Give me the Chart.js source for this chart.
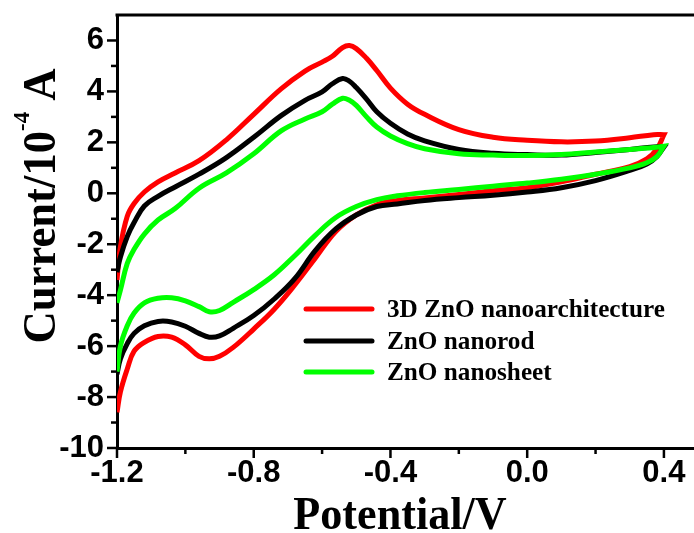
<!DOCTYPE html>
<html>
<head>
<meta charset="utf-8">
<script src="https://cdn.jsdelivr.net/npm/chart.js@4.4.1/dist/chart.umd.min.js"></script>
<style>
  html, body { margin: 0; padding: 0; background: #fff; }
  #wrap { width: 694px; height: 533px; position: relative; }
</style>
</head>
<body>
<div id="wrap"><canvas id="c" width="694" height="533"></canvas></div>
<script>
// ---- Data ----
const seriesNames = ["3D ZnO nanoarchitecture", "ZnO nanorod", "ZnO nanosheet"];
const seriesColors = ["#ff0000", "#000000", "#00ff00"];

// Tick labels
const xTicks = [-1.2, -0.8, -0.4, 0.0, 0.4];
const yTicks = [-10, -8, -6, -4, -2, 0, 2, 4, 6];
const xMinorTicks = [-1.0, -0.6, -0.2, 0.2];
const yMinorTicks = [-9, -7, -5, -3, -1, 1, 3, 5];

// Anodic (upper) branch potentials, V
const upperV = [-1.2, -1.19, -1.17, -1.15, -1.12, -1.08, -1.03, -0.96, -0.88, -0.8, -0.72, -0.65, -0.6, -0.57, -0.54, -0.52, -0.5, -0.47, -0.44, -0.4, -0.35, -0.3, -0.2, -0.1, 0.0, 0.1, 0.2, 0.3, 0.37, 0.4];
const redUpper   = [-3.4, -2.1, -0.9, -0.4, 0.05, 0.45, 0.8, 1.28, 2.1, 3.1, 4.1, 4.8, 5.15, 5.38, 5.72, 5.8, 5.68, 5.3, 4.82, 4.13, 3.5, 3.1, 2.5, 2.2, 2.08, 2.02, 2.05, 2.18, 2.3, 2.3];
const blackUpper = [-3.1, -2.5, -1.7, -1.15, -0.5, -0.12, 0.25, 0.75, 1.4, 2.2, 3.05, 3.65, 3.98, 4.3, 4.51, 4.4, 4.15, 3.7, 3.2, 2.75, 2.33, 2.06, 1.72, 1.57, 1.52, 1.5, 1.6, 1.72, 1.82, 1.82];
const greenUpper = [-4.3, -3.8, -2.75, -2.2, -1.6, -1.05, -0.6, 0.2, 0.8, 1.55, 2.45, 2.92, 3.2, 3.5, 3.73, 3.65, 3.45, 3.0, 2.6, 2.25, 1.95, 1.75, 1.55, 1.5, 1.48, 1.52, 1.62, 1.72, 1.8, 1.85];

// Cathodic (lower) branch potentials, V
const lowerV = [-1.2, -1.19, -1.17, -1.15, -1.12, -1.08, -1.04, -1.0, -0.96, -0.93, -0.9, -0.86, -0.8, -0.74, -0.68, -0.62, -0.56, -0.5, -0.44, -0.38, -0.3, -0.2, -0.1, 0.0, 0.1, 0.2, 0.3, 0.35, 0.38, 0.4];
const redLower   = [-8.6, -7.8, -6.9, -6.2, -5.85, -5.62, -5.65, -5.95, -6.4, -6.5, -6.4, -6.05, -5.33, -4.55, -3.6, -2.55, -1.5, -0.85, -0.45, -0.28, -0.18, -0.05, 0.1, 0.22, 0.45, 0.75, 1.05, 1.35, 1.75, 2.3];
const blackLower = [-7.1, -6.5, -5.9, -5.5, -5.2, -5.03, -5.05, -5.22, -5.5, -5.65, -5.6, -5.3, -4.8, -4.15, -3.35, -2.25, -1.4, -0.85, -0.52, -0.42, -0.28, -0.17, -0.08, 0.05, 0.22, 0.5, 0.9, 1.15, 1.45, 1.82];
const greenLower = [-7.0, -6.0, -5.2, -4.7, -4.3, -4.12, -4.1, -4.22, -4.45, -4.65, -4.6, -4.28, -3.78, -3.2, -2.45, -1.65, -0.95, -0.52, -0.25, -0.1, 0.03, 0.15, 0.28, 0.4, 0.55, 0.75, 1.0, 1.2, 1.45, 1.85];

const xMin = -1.2, xMax = 0.488, yMin = -10, yMax = 7;

// ---- Build loops: upper branch forward, lower branch backward ----
function loop(up, low) {
  const pts = upperV.map((v, i) => ({ x: v, y: up[i] }));
  for (let i = lowerV.length - 1; i >= 0; i--) pts.push({ x: lowerV[i], y: low[i] });
  return pts;
}
const uppers = [redUpper, blackUpper, greenUpper];
const lowers = [redLower, blackLower, greenLower];

const datasets = seriesNames.map((name, k) => ({
  label: name,
  data: loop(uppers[k], lowers[k]),
  borderColor: seriesColors[k],
  backgroundColor: seriesColors[k],
  borderWidth: 5,
  showLine: true,
  pointRadius: 0,
  tension: 0.4,
  fill: false,
  order: 3 - k
}));

const decor = {
  id: 'decor',
  afterDraw(chart) {
    const ctx = chart.ctx;
    const ca = chart.chartArea;
    const xs = chart.scales.x, ys = chart.scales.y;
    ctx.save();
    ctx.strokeStyle = '#000';
    ctx.lineWidth = 3;
    // top frame
    ctx.beginPath();
    ctx.moveTo(ca.left - 1.5, ca.top);
    ctx.lineTo(chart.width, ca.top);
    ctx.stroke();
    // tick marks
    ctx.lineWidth = 2.5;
    const xt = (vals, len) => vals.forEach(v => {
      const px = xs.getPixelForValue(v);
      ctx.beginPath(); ctx.moveTo(px, ca.bottom); ctx.lineTo(px, ca.bottom + len); ctx.stroke();
    });
    const yt = (vals, len) => vals.forEach(v => {
      const py = ys.getPixelForValue(v);
      ctx.beginPath(); ctx.moveTo(ca.left, py); ctx.lineTo(ca.left - len, py); ctx.stroke();
    });
    xt(xTicks, 10); xt(xMinorTicks, 6);
    yt(yTicks, 10); yt(yMinorTicks, 6);
    // x title
    ctx.fillStyle = '#000';
    ctx.textAlign = 'center';
    ctx.textBaseline = 'alphabetic';
    ctx.font = 'bold 46px "Liberation Serif"';
    ctx.save();
    ctx.translate(400, 529);
    ctx.scale(0.96, 1);
    ctx.fillText('Potential/V', 0, 0);
    ctx.restore();
    // y title with superscript
    ctx.save();
    ctx.translate(55, 206);
    ctx.rotate(-Math.PI / 2);
    ctx.scale(0.95, 1);
    const mainFont = 'bold 47px "Liberation Serif"';
    const supFont = 'bold 24px "Liberation Serif"';
    const p1 = 'Current/10', p2 = '-4', p3 = ' A';
    ctx.font = mainFont; const w1 = ctx.measureText(p1).width; const w3 = ctx.measureText(p3).width;
    ctx.font = supFont; const w2 = ctx.measureText(p2).width;
    let x0 = -(w1 + w2 + w3) / 2;
    ctx.textAlign = 'left';
    ctx.font = mainFont; ctx.fillText(p1, x0, 0);
    ctx.font = supFont; ctx.fillText(p2, x0 + w1, -26);
    ctx.font = mainFont; ctx.fillText(p3, x0 + w1 + w2, 0);
    ctx.restore();
    // legend
    const ly = [309, 341, 372];
    ctx.lineCap = 'round';
    ctx.font = 'bold 26px "Liberation Serif"';
    ctx.textAlign = 'left';
    ctx.textBaseline = 'middle';
    for (let k = 0; k < seriesNames.length; k++) {
      ctx.strokeStyle = seriesColors[k];
      ctx.lineWidth = 5;
      ctx.beginPath();
      ctx.moveTo(306, ly[k]);
      ctx.lineTo(372, ly[k]);
      ctx.stroke();
      ctx.fillStyle = '#000';
      ctx.save();
      ctx.translate(387, ly[k] + 1);
      ctx.scale(0.97, 1);
      ctx.fillText(seriesNames[k], 0, 0);
      ctx.restore();
    }
    ctx.restore();
  }
};

const tickFont = { family: '"Liberation Sans"', weight: 'bold', size: 31 };

new Chart(document.getElementById('c'), {
  type: 'scatter',
  data: { datasets },
  options: {
    responsive: false,
    animation: false,
    layout: { padding: { top: 15, right: 0, left: 0, bottom: 0 } },
    plugins: { legend: { display: false }, tooltip: { enabled: false } },
    scales: {
      x: {
        type: 'linear', min: xMin, max: xMax,
        grid: { display: false, drawTicks: false },
        border: { display: true, color: '#000', width: 3 },
        afterBuildTicks(s) { s.ticks = xTicks.map(v => ({ value: v })); },
        ticks: {
          color: '#000', padding: 7, font: tickFont,
          maxRotation: 0, minRotation: 0, autoSkip: false,
          callback: v => Number(v).toFixed(1)
        },
        afterFit(s) { s.height = 85; s.paddingLeft = 0; s.paddingRight = 0; }
      },
      y: {
        type: 'linear', min: yMin, max: yMax,
        grid: { display: false, drawTicks: false },
        border: { display: true, color: '#000', width: 3 },
        afterBuildTicks(s) { s.ticks = yTicks.map(v => ({ value: v })); },
        ticks: {
          color: '#000', padding: 13, font: tickFont, autoSkip: false,
          callback: v => String(Math.round(v))
        },
        afterFit(s) { s.width = 117; s.paddingTop = 0; s.paddingBottom = 0; }
      }
    }
  },
  plugins: [decor]
});
</script>
</body>
</html>
